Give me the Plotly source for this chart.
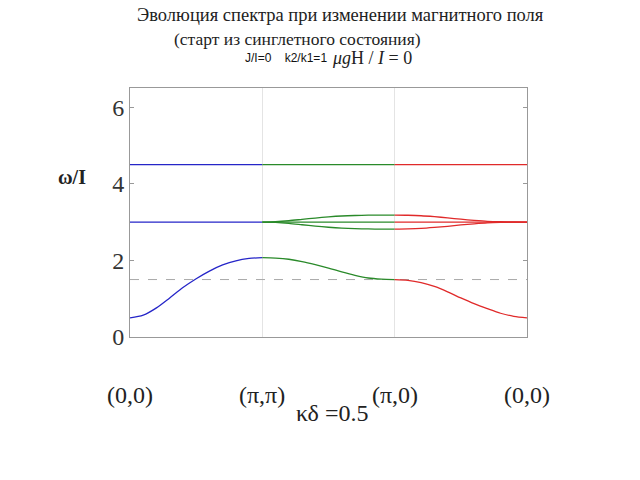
import plotly.graph_objects as go

# segment positions: 0=(0,0), 1=(pi,pi), 2=(pi,0), 3=(0,0)
t = [0.0, 0.1, 0.2, 0.3, 0.4, 0.5, 0.6, 0.7, 0.8, 0.9, 1.0]
x_tick_labels = ["(0,0)", "(π,π)", "(π,0)", "(0,0)"]

# lower branch
low_blue = [0.50, 0.57, 0.76, 1.02, 1.29, 1.52, 1.72, 1.88, 1.99, 2.05, 2.07]
low_green = [2.07, 2.06, 2.03, 1.97, 1.89, 1.80, 1.70, 1.61, 1.54, 1.51, 1.50]
low_red = [1.50, 1.48, 1.42, 1.32, 1.18, 1.02, 0.87, 0.74, 0.62, 0.54, 0.50]

# middle triplet branch
mid_blue = [3.00] * 11
mid_green_up = [3.00, 3.01, 3.035, 3.07, 3.105, 3.135, 3.158, 3.172, 3.18, 3.183, 3.184]
mid_green_c = [3.00] * 11
mid_green_dn = [3.00, 2.99, 2.965, 2.93, 2.895, 2.865, 2.842, 2.828, 2.82, 2.817, 2.816]
mid_red_up = [3.184, 3.178, 3.165, 3.14, 3.11, 3.075, 3.045, 3.02, 3.008, 3.002, 3.00]
mid_red_c = [3.00] * 11
mid_red_dn = [2.816, 2.822, 2.835, 2.86, 2.89, 2.925, 2.955, 2.98, 2.992, 2.998, 3.00]

# upper branch
top_blue = [4.50] * 11
top_green = [4.50] * 11
top_red = [4.50] * 11

dashed_level = 1.5

BLUE = "#2525c8"
GREEN = "#2a8a2a"
RED = "#e02a2a"

fig = go.Figure()

def add(seg, ys, color):
    fig.add_trace(go.Scatter(x=[seg + v for v in t], y=ys, mode="lines",
                             line=dict(color=color, width=1.3, shape="spline", smoothing=0.8),
                             showlegend=False, hoverinfo="skip"))

fig.add_trace(go.Scatter(x=[0, 3], y=[dashed_level, dashed_level], mode="lines",
                         line=dict(color="#aaaaaa", width=1, dash="dash"),
                         showlegend=False, hoverinfo="skip"))

for ys in [low_blue, mid_blue, top_blue]:
    add(0, ys, BLUE)
for ys in [low_green, mid_green_up, mid_green_c, mid_green_dn, top_green]:
    add(1, ys, GREEN)
for ys in [low_red, mid_red_up, mid_red_c, mid_red_dn, top_red]:
    add(2, ys, RED)

serif = "Liberation Serif, DejaVu Serif, serif"

annotations = []
for i, lab in enumerate(x_tick_labels):
    annotations.append(dict(x=i, y=0, xref="x", yref="paper", text=lab, showarrow=False,
                            xanchor="center", yanchor="middle", yshift=-58,
                            font=dict(family=serif, size=24, color="#222")))
annotations += [
    dict(x=0.51, y=0, xref="paper", yref="paper", text="κδ =0.5", showarrow=False,
         xanchor="center", yanchor="middle", yshift=-76,
         font=dict(family=serif, size=24, color="#222")),
    dict(x=-0.145, y=4.0, xref="paper", yref="y", text="<b>ω/I</b>", showarrow=False,
         xanchor="center", yanchor="middle", yshift=7,
         font=dict(family=serif, size=20, color="#222")),
    dict(x=0.529, y=1.293, xref="paper", yref="paper",
         text="Эволюция спектра при изменении магнитного поля", showarrow=False,
         xanchor="center", yanchor="middle", font=dict(family=serif, size=18.5, color="#222")),
    dict(x=0.423, y=1.197, xref="paper", yref="paper",
         text="(старт из синглетного состояния)", showarrow=False,
         xanchor="center", yanchor="middle", font=dict(family=serif, size=17.5, color="#222")),
    dict(x=0.394, y=1.122, xref="paper", yref="paper",
         text="J/I=0    k2/k1=1", showarrow=False,
         xanchor="center", yanchor="middle", font=dict(family="Liberation Sans, Arial", size=12, color="#111")),
    dict(x=0.61, y=1.122, xref="paper", yref="paper",
         text="<i>μg</i>H / <i>I</i> = 0", showarrow=False,
         xanchor="center", yanchor="middle", font=dict(family=serif, size=18, color="#222")),
]

fig.update_layout(
    width=640, height=480,
    margin=dict(l=130, r=113, t=88, b=143),
    paper_bgcolor="white", plot_bgcolor="white",
    annotations=annotations,
    xaxis=dict(range=[0, 3], tickvals=[1, 2], showticklabels=False, showgrid=True,
               gridcolor="#e4e4e4", gridwidth=1, zeroline=False, showline=True,
               linecolor="#999", linewidth=1, mirror=True, ticks=""),
    yaxis=dict(range=[0, 6.5], tickvals=[0, 2, 4, 6], ticktext=["0", "2", "4", "6"],
               showgrid=False, zeroline=False, showline=True, linecolor="#999",
               linewidth=1, mirror="ticks", ticks="inside", ticklen=4, tickcolor="#999",
               tickfont=dict(family=serif, size=24, color="#333"), ticklabelstandoff=0),
)

fig.write_html("out.html")
